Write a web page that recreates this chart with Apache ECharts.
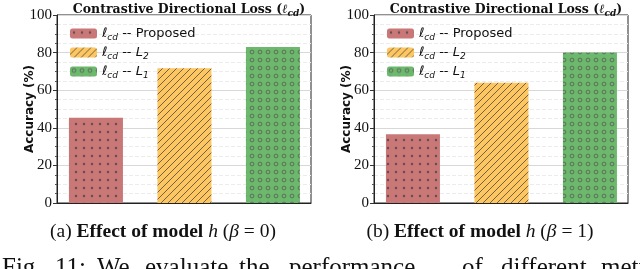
<!DOCTYPE html>
<html><head><meta charset="utf-8">
<script src="https://cdn.jsdelivr.net/npm/echarts@6/dist/echarts.min.js"></script>
<style>html,body{margin:0;padding:0;background:#fff}#c{width:640px;height:269px}</style>
</head><body><div id="c"></div>
<script>
// ---- data ----
const categories = ['Proposed', 'L2', 'L1'];
const accBeta0 = [45.3, 71.7, 83.0];
const accBeta1 = [36.6, 63.9, 80.1];
const yTicks = [0, 20, 40, 60, 80, 100];
const panelTitle = 'Contrastive Directional Loss';
const subCaptions = ['(a) ', '(b) '];
const betaValues = ['0', '1'];
const figWords = ['Fig.', '11:', 'We', 'evaluate', 'the', 'performance', 'of', 'different', 'metrics'];

// ---- patterns ----
function pattern(base, kind) {
  const s = kind === 'hatch' ? 7 : 8;
  const c = document.createElement('canvas');
  c.width = s; c.height = s;
  const g = c.getContext('2d');
  g.fillStyle = base; g.fillRect(0, 0, s, s);
  if (kind === 'dots') {
    g.fillStyle = 'rgba(70,70,70,0.8)';
    g.beginPath(); g.arc(s / 2, s / 2, 1.2, 0, Math.PI * 2); g.fill();
  } else if (kind === 'rings') {
    g.strokeStyle = 'rgba(90,90,90,0.85)'; g.lineWidth = 0.9;
    g.beginPath(); g.arc(s / 2, s / 2, 1.9, 0, Math.PI * 2); g.stroke();
  } else {
    g.strokeStyle = 'rgba(60,60,60,0.8)'; g.lineWidth = 0.9;
    g.beginPath();
    g.moveTo(-1, s + 1); g.lineTo(s + 1, -1);
    g.moveTo(-1 - s, s + 1); g.lineTo(1, -1);
    g.moveTo(s - 1, s + 1); g.lineTo(2 * s + 1, -1);
    g.stroke();
  }
  return { image: c, repeat: 'repeat' };
}
const fills = [pattern('#c97777', 'dots'), pattern('#fdc660', 'hatch'), pattern('#6cb86c', 'rings')];

const chart = echarts.init(document.getElementById('c'), null, { renderer: 'canvas' });

const grids = [
  { left: 57, right: 329, top: 15, bottom: 66 },
  { left: 374, right: 12, top: 15, bottom: 66 }
];
const centers = [184, 501];
const datasets = [accBeta0, accBeta1];

const serif = '"Liberation Serif", "Times New Roman", serif';
const dserif = '"DejaVu Serif", serif';
const sans = '"DejaVu Sans", sans-serif';

const legendRich = {
  l: { fontFamily: sans, fontStyle: 'italic', fontSize: 13, color: '#111', lineHeight: 18 },
  s: { fontFamily: sans, fontStyle: 'italic', fontSize: 9, color: '#111', lineHeight: 10, verticalAlign: 'bottom' },
  t: { fontFamily: sans, fontSize: 13, color: '#111', lineHeight: 18 },
  i: { fontFamily: sans, fontStyle: 'italic', fontSize: 13, color: '#111', lineHeight: 18 }
};
function legendFmt(name) {
  if (name === 'Proposed') return '{l|ℓ}{s|cd}{t| -- Proposed}';
  const n = name.slice(1);
  return '{l|ℓ}{s|cd}{t| -- }{i|L}{s|' + n + '}';
}

const option = {
  animation: false,
  backgroundColor: '#fff',
  grid: grids.map(g => Object.assign({ show: true, borderColor: '#222', borderWidth: 1, backgroundColor: 'transparent' }, g)),
  title: centers.map(cx => ({
    text: '{b|' + panelTitle + ' (}{l|ℓ}{s|cd}{b|)}',
    left: cx, top: -3, textAlign: 'center',
    textStyle: {
      rich: {
        b: { fontFamily: dserif, fontWeight: 'bold', fontSize: 12.5, color: '#111', lineHeight: 16 },
        l: { fontFamily: dserif, fontWeight: 'bold', fontStyle: 'italic', fontSize: 12.5, color: '#111', lineHeight: 16 },
        s: { fontFamily: dserif, fontWeight: 'bold', fontStyle: 'italic', fontSize: 9, color: '#111', lineHeight: 9, verticalAlign: 'bottom' }
      }
    }
  })),
  legend: grids.map((g, k) => ({
    orient: 'vertical',
    left: g.left + 13, top: 27, padding: 0,
    itemWidth: 27, itemHeight: 10, itemGap: 3.5,
    data: categories,
    selectedMode: false,
    formatter: legendFmt,
    textStyle: { rich: legendRich }
  })),
  xAxis: grids.map((g, k) => ({
    type: 'value', gridIndex: k, min: -0.44, max: 2.43,
    axisLabel: { show: false }, axisTick: { show: false }, splitLine: { show: false },
    axisLine: { show: true, onZero: false, lineStyle: { color: '#222' } }
  })),
  yAxis: grids.map((g, k) => ({
    type: 'value', gridIndex: k, min: yTicks[0], max: yTicks[yTicks.length - 1], interval: 20,
    name: 'Accuracy (%)', nameLocation: 'middle', nameGap: 21, nameMoveOverlap: false,
    nameTextStyle: { fontFamily: sans, fontWeight: 'bold', fontSize: 12, color: '#111' },
    axisLine: { show: true, onZero: false, lineStyle: { color: '#222' } },
    axisTick: { show: true, length: 4, lineStyle: { color: '#333' } },
    minorTick: { show: true, splitNumber: 4, length: 2, lineStyle: { color: '#555' } },
    axisLabel: { fontFamily: serif, fontSize: 15, color: '#111', margin: 5 },
    splitLine: { show: true, lineStyle: { color: '#d8d8d8', width: 1 } },
    minorSplitLine: { show: true, lineStyle: { color: '#ececec', type: 'dashed', width: 1 } }
  })),
  series: [],
  graphic: []
};

datasets.forEach((vals, k) => {
  categories.forEach((cat, i) => {
    option.series.push({
      type: 'bar', name: cat, xAxisIndex: k, yAxisIndex: k,
      barWidth: 54, barGap: '-100%',
      itemStyle: { color: fills[i], opacity: 1 },
      data: [[i, vals[i]]]
    });
  });
});

// sub captions
const capX = [163, 480];
capX.forEach((x, k) => {
  option.graphic.push({
    type: 'text', x: x, y: 232,
    style: {
      text: '{n|' + subCaptions[k] + '}{b|Effect of model }{i|h}{n| (}{i|β}{n| = ' + betaValues[k] + ')}',
      align: 'center', verticalAlign: 'middle',
      rich: {
        n: { fontFamily: serif, fontSize: 19.5, fill: '#111' },
        b: { fontFamily: serif, fontSize: 19.5, fontWeight: 'bold', fill: '#111' },
        i: { fontFamily: serif, fontSize: 19.5, fontStyle: 'italic', fill: '#111' }
      }
    }
  });
});

// figure caption (cut off at the bottom)
const wordX = [2, 55, 97, 145, 239, 289, 462, 501, 601];
figWords.forEach((w, i) => {
  option.graphic.push({
    type: 'text', x: wordX[i], y: 256,
    style: { text: w, fontFamily: serif, fontSize: 25, fill: '#111', verticalAlign: 'top' }
  });
});

chart.setOption(option);
</script></body></html>
